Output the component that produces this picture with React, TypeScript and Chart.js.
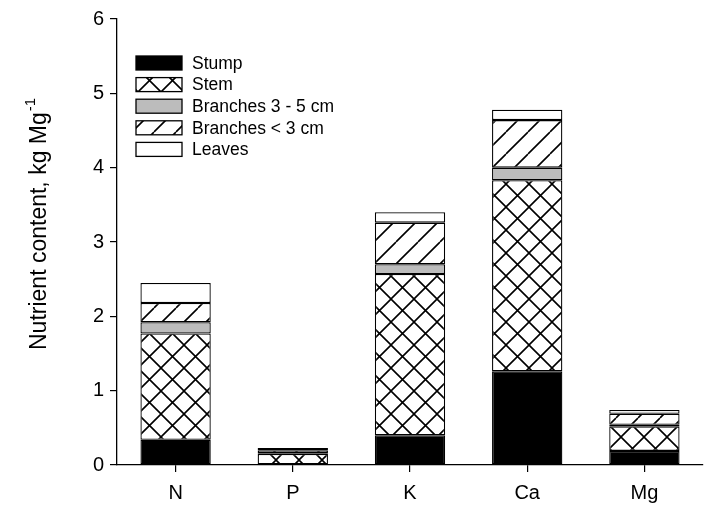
import React, { useEffect, useRef } from 'react';
import { Chart, registerables } from 'chart.js';

Chart.register(...registerables);

const categories = ['N', 'P', 'K', 'Ca', 'Mg'];
const stump = [0.34, 0.01, 0.40, 1.26, 0.19];
const stem = [1.43, 0.14, 2.17, 2.57, 0.33];
const branches35 = [0.15, 0.01, 0.13, 0.17, 0.02];
const branchesLt3 = [0.26, 0.04, 0.56, 0.64, 0.15];
const leaves = [0.27, 0.03, 0.14, 0.14, 0.05];
const seriesLabels = ['Stump', 'Stem', 'Branches 3 - 5 cm', 'Branches < 3 cm', 'Leaves'];
const yMin = 0;
const yMax = 6;
const yStep = 1;
const yTitle = 'Nutrient content, kg Mg';
const yTitleSup = '-1';

const FONT = '"Liberation Sans", Arial, Helvetica, sans-serif';

function makePattern(kind: 'cross' | 'diag', size: number): CanvasPattern | string {
  const c = document.createElement('canvas');
  c.width = size;
  c.height = size;
  const g = c.getContext('2d');
  if (!g) return '#fff';
  g.fillStyle = '#fff';
  g.fillRect(0, 0, size, size);
  g.strokeStyle = '#000';
  g.lineWidth = 1.6;
  g.beginPath();
  for (const k of [-1, 0, 1]) {
    g.moveTo(k * size, size);
    g.lineTo(k * size + size, 0);
    if (kind === 'cross') {
      g.moveTo(k * size, 0);
      g.lineTo(k * size + size, size);
    }
  }
  g.stroke();
  return g.createPattern(c, 'repeat') || '#fff';
}

export default function App() {
  const ref = useRef<HTMLCanvasElement | null>(null);

  useEffect(() => {
    const canvas = ref.current;
    if (!canvas) return;
    const cross = makePattern('cross', 23);
    const diag = makePattern('diag', 22);
    const fills: (string | CanvasPattern)[] = ['#000000', cross, '#bcbcbc', diag, '#ffffff'];
    const values = [stump, stem, branches35, branchesLt3, leaves];

    const legendPlugin = {
      id: 'customLegend',
      afterDraw(chart: any) {
        const ctx = chart.ctx as CanvasRenderingContext2D;
        ctx.save();
        seriesLabels.forEach((lab, i) => {
          const yc = 63 + i * 21.6;
          ctx.fillStyle = fills[i] as any;
          ctx.fillRect(136, yc - 7, 46, 14);
          ctx.strokeStyle = '#000';
          ctx.lineWidth = 1.3;
          ctx.strokeRect(136, yc - 7, 46, 14);
          ctx.fillStyle = '#000';
          ctx.font = `17.5px ${FONT}`;
          ctx.textBaseline = 'middle';
          ctx.textAlign = 'left';
          ctx.fillText(lab, 192, yc + 1);
        });
        ctx.restore();
      },
    };

    const titlePlugin = {
      id: 'yTitle',
      afterDraw(chart: any) {
        const ctx = chart.ctx as CanvasRenderingContext2D;
        ctx.save();
        ctx.translate(40, 350);
        ctx.rotate(-Math.PI / 2);
        ctx.fillStyle = '#000';
        ctx.textBaseline = 'middle';
        ctx.textAlign = 'left';
        ctx.font = `23px ${FONT}`;
        ctx.fillText(yTitle, 0, 0);
        const w = ctx.measureText(yTitle).width;
        ctx.font = `15px ${FONT}`;
        ctx.fillText(yTitleSup, w + 1, -9);
        ctx.restore();
      },
    };

    const chart = new Chart(canvas, {
      type: 'bar',
      data: {
        labels: categories,
        datasets: seriesLabels.map((lab, i) => ({
          label: lab,
          data: values[i],
          backgroundColor: fills[i] as any,
          borderColor: '#000',
          borderWidth: 1.3,
          borderSkipped: false,
          barPercentage: 0.6,
          categoryPercentage: 1.0,
          stack: 'a',
        })),
      },
      options: {
        responsive: false,
        animation: false,
        events: [],
        layout: { padding: { top: 19, right: 15, left: 0, bottom: 0 } },
        plugins: {
          legend: { display: false },
          tooltip: { enabled: false },
          title: { display: false },
        },
        scales: {
          x: {
            stacked: true,
            grid: {
              display: true,
              drawOnChartArea: false,
              drawTicks: true,
              tickLength: 7,
              color: '#000',
              lineWidth: 1.2,
              offset: false,
            },
            border: { display: true, color: '#000', width: 1.3 },
            ticks: { color: '#000', font: { family: FONT, size: 20 }, padding: 9 },
            afterFit: (s: any) => {
              s.height = 45;
            },
          },
          y: {
            stacked: true,
            min: yMin,
            max: yMax,
            grid: {
              display: true,
              drawOnChartArea: false,
              drawTicks: true,
              tickLength: 7,
              color: '#000',
              lineWidth: 1.2,
            },
            border: { display: true, color: '#000', width: 1.3 },
            ticks: { stepSize: yStep, color: '#000', font: { family: FONT, size: 20 }, padding: 6 },
            afterFit: (s: any) => {
              s.width = 117;
            },
          },
        },
      },
      plugins: [legendPlugin, titlePlugin],
    });
    return () => chart.destroy();
  }, []);

  return (
    <div style={{ position: 'absolute', left: 0, top: 0, width: 718, height: 510, background: '#fff' }}>
      <canvas ref={ref} width={718} height={510} />
    </div>
  );
}
